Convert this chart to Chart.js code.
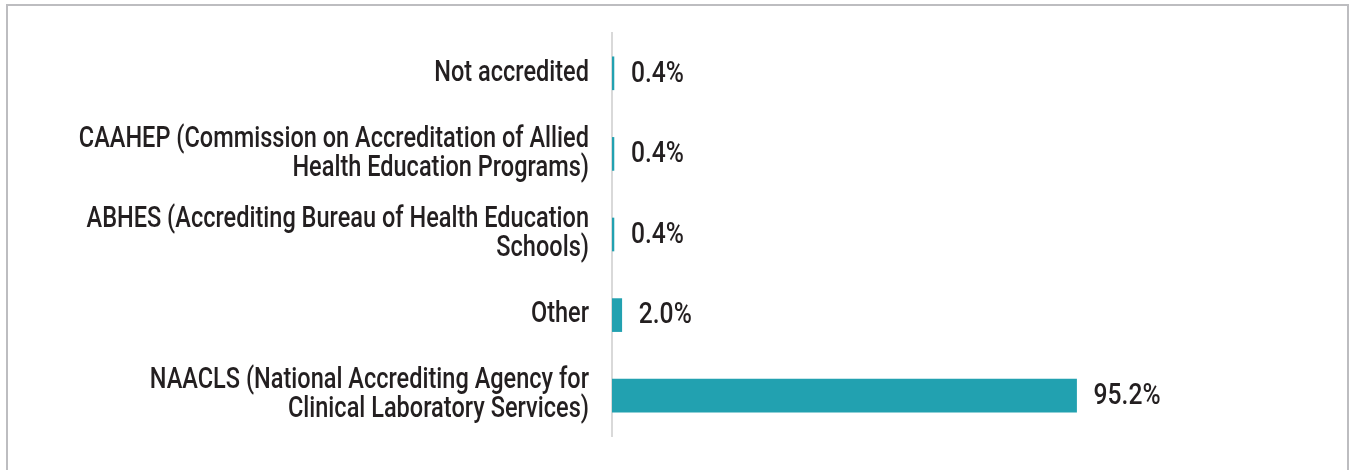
<!DOCTYPE html>
<html>
<head>
<meta charset="utf-8">
<script src="https://cdn.jsdelivr.net/npm/chart.js@4.4.1/dist/chart.umd.min.js"></script>
<style>
  html, body { margin: 0; padding: 0; background: #ffffff; overflow: hidden; }
  #wrap { position: relative; width: 1351px; height: 470px; }
  #frame { position: absolute; left: 6px; top: 4px; width: 1343px; height: 500px; border: 2.5px solid #bdbdc0; box-sizing: border-box; }
  canvas { position: absolute; left: 0; top: 0; }
</style>
</head>
<body>
<div id="wrap">
  <div id="frame"></div>
  <canvas id="c" width="1351" height="470"></canvas>
</div>
<script>
const categories = [
  ["Not accredited"],
  ["CAAHEP (Commission on Accreditation of Allied", "Health Education Programs)"],
  ["ABHES (Accrediting Bureau of Health Education", "Schools)"],
  ["Other"],
  ["NAACLS (National Accrediting Agency for", "Clinical Laboratory Services)"]
];
const values = [0.4, 0.4, 0.4, 2.0, 95.2];
const valueLabels = ["0.4%", "0.4%", "0.4%", "2.0%", "95.2%"];

const FONT = 'Roboto, "Liberation Sans", sans-serif';
const FONT_SIZE = 29;
const FONT_WEIGHT = '500';
const SX = 0.812; // horizontal condensing of text

const condensePlugin = {
  id: 'condense',
  beforeDraw(chart) {
    const s = chart.scales.y;
    if (s && !s._condensed) {
      s._condensed = true;
      const orig = s.drawLabels;
      s._computeLabelArea = function () { return undefined; };
      s.drawLabels = function (ca) {
        const ctx = this.ctx;
        const ax = this.right - this.options.ticks.padding;
        ctx.save();
        ctx.translate(ax, 0);
        ctx.scale(SX, 1);
        ctx.translate(-ax, 0);
        orig.call(this, ca);
        ctx.restore();
      };
    }
  }
};

const valueLabelPlugin = {
  id: 'valueLabels',
  afterDatasetsDraw(chart) {
    const ctx = chart.ctx;
    const meta = chart.getDatasetMeta(0);
    ctx.save();
    ctx.font = FONT_WEIGHT + ' ' + FONT_SIZE + 'px ' + FONT;
    ctx.fillStyle = '#231f20';
    ctx.textAlign = 'left';
    ctx.textBaseline = 'middle';
    meta.data.forEach((bar, i) => {
      ctx.save();
      ctx.translate(bar.x + 17, bar.y + 1);
      ctx.scale(0.85, 1);
      ctx.fillText(valueLabels[i], 0, 0);
      ctx.restore();
    });
    ctx.restore();
  }
};

new Chart(document.getElementById('c'), {
  type: 'bar',
  data: {
    labels: categories,
    datasets: [{
      data: values,
      backgroundColor: '#22a1b0',
      borderWidth: 0,
      barThickness: 33
    }]
  },
  options: {
    indexAxis: 'y',
    responsive: false,
    animation: false,
    layout: { padding: { left: 0, right: 251, top: 33, bottom: 34 } },
    plugins: { legend: { display: false }, tooltip: { enabled: false } },
    scales: {
      x: {
        display: false,
        min: 0,
        max: 100
      },
      y: {
        afterFit(s) { s.width = 612; s.paddingTop = 0; s.paddingBottom = 0; },
        grid: { display: false, drawTicks: false },
        border: { display: true, color: '#d9d9d9', width: 2 },
        ticks: {
          color: '#231f20',
          padding: 23,
          font: { family: FONT, size: FONT_SIZE, weight: FONT_WEIGHT, lineHeight: 1.0 }
        }
      }
    }
  },
  plugins: [condensePlugin, valueLabelPlugin]
});
</script>
</body>
</html>
